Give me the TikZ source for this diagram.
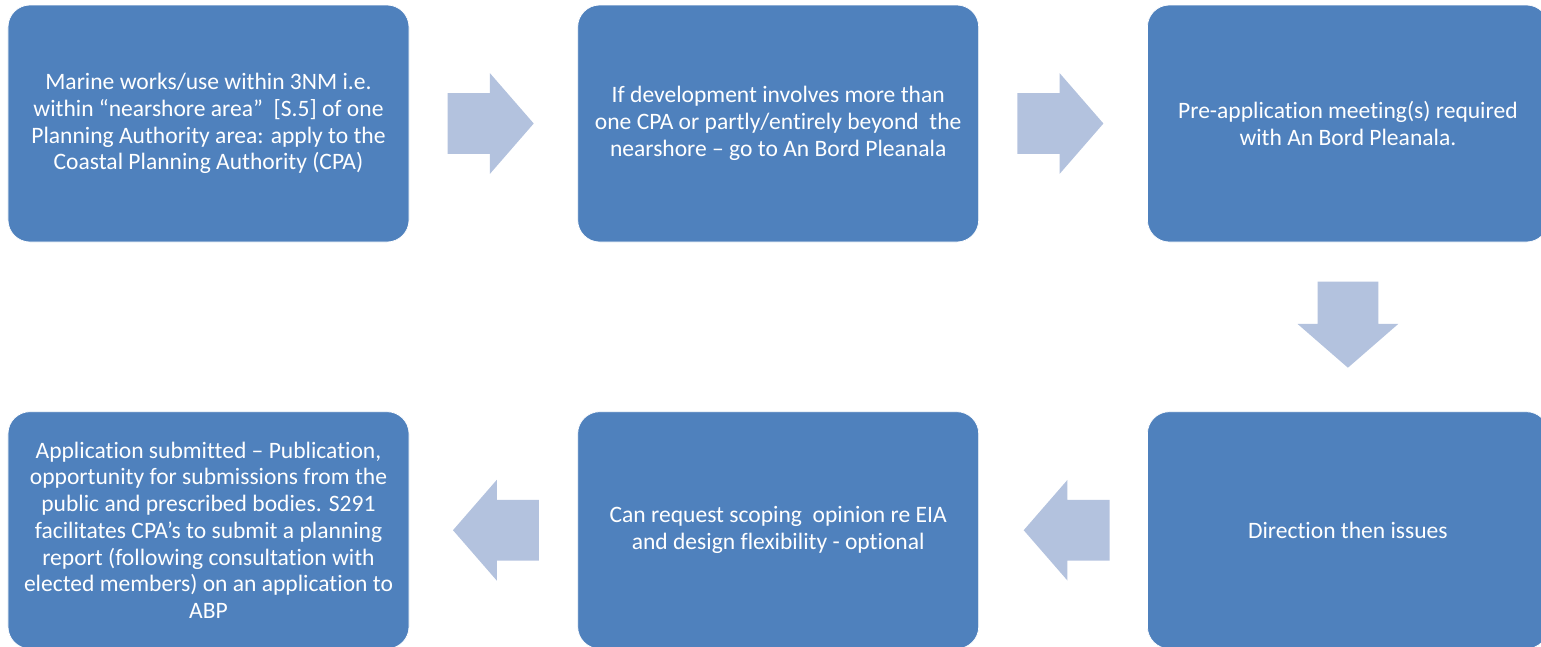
\documentclass[tikz,border=0pt]{standalone}
\usepackage{fontspec}
\setmainfont{Carlito}[Ligatures=NoCommon]
\usepackage{tikz}
\usetikzlibrary{shapes.arrows, positioning}
\definecolor{boxblue}{HTML}{4F81BD}
\definecolor{arrowblue}{HTML}{B3C2DE}

\begin{document}
\begin{tikzpicture}[
        node distance=3.38cm and 3.36cm,
        stage/.style={rectangle, draw=white, fill=boxblue, text=white, align=center, rounded corners=0.44cm, minimum height=4.74cm, minimum width=8.02cm, font=\fontsize{13.4}{15.2}\selectfont},
        flow/.style={single arrow, fill=arrowblue, inner xsep=0pt, inner ysep=0.6cm, minimum height=1.72cm, minimum width=2cm, single arrow head extend=0.4cm, single arrow tip angle=98}
    ]
        \useasboundingbox (0,0) rectangle (30.82,-12.92);
        % Nodes
        \node (marine) [stage] at (4.17,-2.47) {Marine works/use within 3NM i.e.\\within “nearshore area”~~[S.5] of one\\Planning Authority area: apply to the\\Coastal Planning Authority (CPA)};
        \node (beyond) [stage, right=of marine] {If development involves more than\\one CPA or partly/entirely beyond~~the\\nearshore – go to An Bord Pleanala};
        \node (preapp) [stage, right=of beyond] {Pre-application meeting(s) required\\with An Bord Pleanala.};
        \node (direction) [stage, below=of preapp] {Direction then issues};
        \node (scoping) [stage, left=of direction] {Can request scoping~~opinion re EIA\\and design flexibility - optional};
        \node (submitted) [stage, left=of scoping] {Application submitted – Publication,\\opportunity for submissions from the\\public and prescribed bodies. S291\\facilitates CPA’s to submit a planning\\report (following consultation with\\elected members) on an application to\\ABP};
        
        % Arrows
        \node (f1) [flow, right=0.76cm of marine] {};
        \node (f2) [flow, right=0.76cm of beyond] {};
        \node (f3) [flow, shape border rotate=270, inner xsep=0.6cm, inner ysep=0pt, below=0.78cm of preapp] {};
        \node (f4) [flow, shape border rotate=180, left=0.74cm of direction] {};
        \node (f5) [flow, shape border rotate=180, left=0.76cm of scoping] {};
    \end{tikzpicture}
\end{document}
